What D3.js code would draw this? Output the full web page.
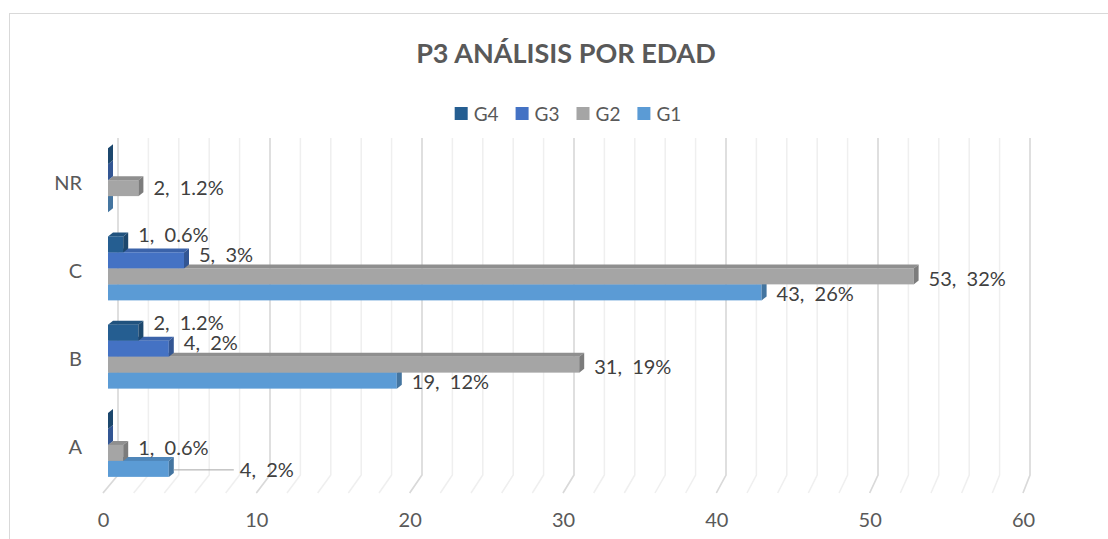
<!DOCTYPE html>
<html>
<head>
<meta charset="utf-8">
<script src="https://cdn.jsdelivr.net/npm/d3@7"></script>
<style>
  body { margin: 0; background: #fff; }
  text { font-family: Lato, "Open Sans", sans-serif; }
</style>
</head>
<body>
<div id="chart"></div>
<script>
// data
var categories = ["A", "B", "C", "NR"];
var seriesNames = ["G4", "G3", "G2", "G1"];
var g4 = [0, 2, 1, 0];
var g3 = [0, 4, 5, 0];
var g2 = [1, 31, 53, 2];
var g1 = [4, 19, 43, 0];
var g4Pct = ["", "1.2%", "0.6%", ""];
var g3Pct = ["", "2%", "3%", ""];
var g2Pct = ["0.6%", "19%", "32%", "1.2%"];
var g1Pct = ["2%", "12%", "26%", ""];
var xTicks = [0, 10, 20, 30, 40, 50, 60];

var seriesValues = { G4: g4, G3: g3, G2: g2, G1: g1 };
var seriesPct = { G4: g4Pct, G3: g3Pct, G2: g2Pct, G1: g1Pct };
var colors = { G4: "#255e91", G3: "#4472c4", G2: "#a5a5a5", G1: "#5b9bd5" };

var width = 1108, height = 539;
var depthX = 5, depthY = 4; // 3d offset of the bars

var svg = d3.select("#chart").append("svg")
    .attr("width", width)
    .attr("height", height);

// chart area border
svg.append("rect")
    .attr("x", 9.5).attr("y", 13.5)
    .attr("width", 1200).attr("height", 600)
    .attr("fill", "none")
    .attr("stroke", "#d9d9d9");

// scales: front of bars, back wall, floor edge
var x = d3.scaleLinear().domain([0, 60]).range([108, 1020]);
var xBack = d3.scaleLinear().domain([0, 60]).range([118, 1030]);
var xFloor = d3.scaleLinear().domain([0, 60]).range([103, 1023]);

var y = d3.scaleBand().domain(categories).range([489, 136]);
var yInner = d3.scaleBand().domain(seriesNames).range([-32, 32]);

var wallTop = 138, wallBottom = 475, floorFront = 493;

// gridlines, minor then major
var grid = svg.append("g").attr("class", "grid");
var minor = x.ticks(30);
var major = x.ticks(6);

grid.selectAll("path.minor")
    .data(minor)
    .enter().append("path")
    .attr("class", "minor")
    .attr("d", function(d) {
        return "M" + xBack(d) + "," + wallTop + "V" + wallBottom +
            "L" + xFloor(d) + "," + floorFront;
    })
    .attr("fill", "none")
    .attr("stroke", "#efefef")
    .attr("stroke-width", 1.5);

grid.selectAll("path.major")
    .data(major)
    .enter().append("path")
    .attr("class", "major")
    .attr("d", function(d) {
        return "M" + xBack(d) + "," + wallTop + "V" + wallBottom +
            "L" + xFloor(d) + "," + floorFront;
    })
    .attr("fill", "none")
    .attr("stroke", "#d9d9d9")
    .attr("stroke-width", 1.5);

// bars, drawn bottom series first so the one above hides its top face
var bars = svg.append("g").attr("class", "bars");
var drawOrder = seriesNames.slice().reverse();

categories.forEach(function(cat, ci) {
    var center = y(cat) + y.bandwidth() / 2;
    drawOrder.forEach(function(s) {
        var v = seriesValues[s][ci];
        var y0 = center + yInner(s);
        var h = yInner.bandwidth();
        var x0 = x(0), x1 = x(v);
        var base = d3.color(colors[s]);
        var g = bars.append("g");

        // top face
        g.append("path")
            .attr("d", "M" + x0 + "," + y0 + "L" + (x0 + depthX) + "," + (y0 - depthY) +
                "L" + (x1 + depthX) + "," + (y0 - depthY) + "L" + x1 + "," + y0 + "Z")
            .attr("fill", base.darker(0.4));
        // front face
        g.append("rect")
            .attr("x", x0).attr("y", y0)
            .attr("width", x1 - x0).attr("height", h)
            .attr("fill", base);
        // end face
        g.append("path")
            .attr("d", "M" + x1 + "," + y0 + "L" + (x1 + depthX) + "," + (y0 - depthY) +
                "L" + (x1 + depthX) + "," + (y0 + h - depthY) + "L" + x1 + "," + (y0 + h) + "Z")
            .attr("fill", base.darker(0.8));
    });
});

// data labels
var labelNudge = { G4: -10, G3: -6, G2: 2, G1: 1 };
var extraNudge = { "A-G2": -7, "NR-G2": -2 };
var leaderShift = { "A-G1": 56 }; // Excel moved this one right with a leader line
var labels = svg.append("g").attr("class", "labels");

categories.forEach(function(cat, ci) {
    var center = y(cat) + y.bandwidth() / 2;
    seriesNames.forEach(function(s) {
        var v = seriesValues[s][ci];
        if (!v) return;
        var key = cat + "-" + s;
        var yc = center + yInner(s) + yInner.bandwidth() / 2 + labelNudge[s] + (extraNudge[key] || 0);
        var lx = x(v) + 15;
        var shift = leaderShift[key];
        if (shift) {
            labels.append("line")
                .attr("x1", x(v) + depthX).attr("x2", lx + shift - 6)
                .attr("y1", yc).attr("y2", yc)
                .attr("stroke", "#a6a6a6");
            lx += shift;
        }
        labels.append("text")
            .attr("x", lx)
            .attr("y", yc)
            .attr("dy", "0.36em")
            .attr("xml:space", "preserve")
            .attr("fill", "#404040")
            .style("font-size", "20px")
            .text(v + ",  " + seriesPct[s][ci]);
    });
});

// category axis
var yAxis = d3.axisLeft(y).tickSize(0).tickPadding(0);
var yg = svg.append("g")
    .attr("transform", "translate(82,3)")
    .call(yAxis);
yg.select(".domain").remove();
yg.selectAll("text")
    .attr("fill", "#595959")
    .style("font-size", "20px")
    .style("font-family", "Lato, 'Open Sans', sans-serif");

// value axis
var xAxis = d3.axisBottom(xFloor).tickValues(xTicks).tickSize(0).tickPadding(3);
var xg = svg.append("g")
    .attr("transform", "translate(0,510)")
    .call(xAxis);
xg.select(".domain").remove();
xg.selectAll("text")
    .attr("fill", "#595959")
    .style("font-size", "20px")
    .style("font-family", "Lato, 'Open Sans', sans-serif");

// title
svg.append("text")
    .attr("x", 566)
    .attr("y", 63)
    .attr("text-anchor", "middle")
    .attr("fill", "#595959")
    .style("font-size", "27px")
    .style("font-weight", "bold")
    .text("P3 ANÁLISIS POR EDAD");

// legend
var legend = svg.append("g").attr("class", "legend");
var lx = 0;
seriesNames.forEach(function(s) {
    var item = legend.append("g").attr("transform", "translate(" + lx + ",0)");
    item.append("rect")
        .attr("x", 0).attr("y", -7)
        .attr("width", 13).attr("height", 13)
        .attr("fill", colors[s]);
    var t = item.append("text")
        .attr("x", 19).attr("y", 0)
        .attr("dy", "0.36em")
        .attr("fill", "#595959")
        .style("font-size", "19px")
        .text(s);
    lx += 19 + t.node().getComputedTextLength() + 17;
});
var legendWidth = lx - 17;
legend.attr("transform", "translate(" + (568 - legendWidth / 2) + ",114)");
</script>
</body>
</html>
